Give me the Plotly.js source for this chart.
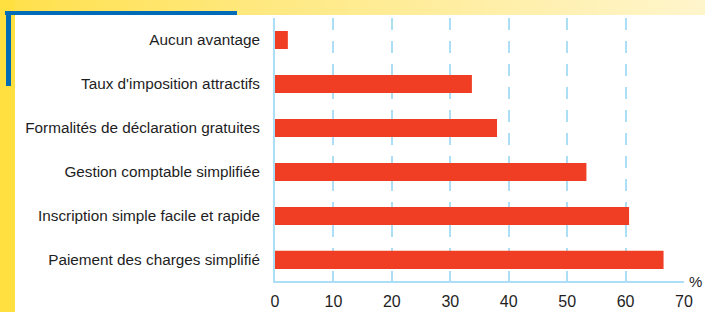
<!DOCTYPE html>
<html>
<head>
<meta charset="utf-8">
<script src="https://cdn.plot.ly/plotly-3.0.1.min.js"></script>
<style>
  html, body { margin: 0; padding: 0; }
  #wrap { position: relative; width: 705px; height: 312px; overflow: hidden;
          background: linear-gradient(to right, #FFE04A 0%, #FFE984 40%, #FFF5CC 100%); }
  #leftStrip { position: absolute; left: 0; top: 0; width: 15px; height: 312px; background: #FFE040; }
  #panel { position: absolute; left: 15px; top: 15px; right: 0; bottom: 0; background: #FFFFFF; }
  #blueH { position: absolute; left: 5px; top: 11px; width: 232px; height: 4px; background: #006BB6; }
  #blueV { position: absolute; left: 6px; top: 11px; width: 5px; height: 75px; background: #006BB6; }
  #chart { position: absolute; left: 0; top: 0; width: 705px; height: 312px; }
</style>
</head>
<body>
<div id="wrap">
  <div id="leftStrip"></div>
  <div id="panel"></div>
  <div id="blueH"></div>
  <div id="blueV"></div>
  <div id="chart"></div>
</div>
<script>
// Data (top to bottom as displayed)
const categories = [
  "Aucun avantage",
  "Taux d'imposition attractifs",
  "Formalités de déclaration gratuites",
  "Gestion comptable simplifiée",
  "Inscription simple facile et rapide",
  "Paiement des charges simplifié"
];
const values = [2.2, 33.7, 38.0, 53.3, 60.6, 66.5];
const xTickValues = [0, 10, 20, 30, 40, 50, 60, 70];
const unitLabel = "%";

const lineBlue = "#ACDEF6";
const textColor = "#1E1E1E";
const fontFam = "'Liberation Sans', Arial, sans-serif";

const trace = {
  type: "bar",
  orientation: "h",
  x: values,
  y: categories,
  width: 0.41,
  marker: { color: "#EF3E23", line: { width: 0 } },
  hoverinfo: "skip"
};

const layout = {
  width: 705,
  height: 312,
  margin: { l: 275, r: 21, t: 18, b: 31, pad: 0 },
  paper_bgcolor: "rgba(0,0,0,0)",
  plot_bgcolor: "rgba(0,0,0,0)",
  showlegend: false,
  font: { family: fontFam, size: 15, color: textColor },
  xaxis: {
    range: [0, 70],
    tickvals: xTickValues,
    ticktext: xTickValues.map(String),
    showline: true,
    linecolor: lineBlue,
    linewidth: 2,
    ticks: "inside",
    ticklen: 9,
    tickwidth: 2,
    tickcolor: lineBlue,
    showgrid: true,
    gridcolor: lineBlue,
    gridwidth: 2,
    griddash: "12px,11px",
    zeroline: false,
    tickfont: { family: fontFam, size: 16, color: textColor },
    ticklabelstandoff: 5,
    fixedrange: true
  },
  yaxis: {
    type: "category",
    range: [5.48, -0.5],
    showline: true,
    linecolor: lineBlue,
    linewidth: 2,
    ticks: "",
    showgrid: false,
    zeroline: false,
    tickfont: { family: fontFam, size: 15.3, color: textColor },
    ticklabelstandoff: 10,
    fixedrange: true
  },
  annotations: [{
    text: unitLabel,
    xref: "paper", yref: "paper",
    x: 1.027, y: 0,
    xanchor: "center", yanchor: "middle",
    showarrow: false,
    font: { family: fontFam, size: 15, color: textColor }
  }]
};

Plotly.newPlot("chart", [trace], layout, { displayModeBar: false, staticPlot: true });
</script>
</body>
</html>
